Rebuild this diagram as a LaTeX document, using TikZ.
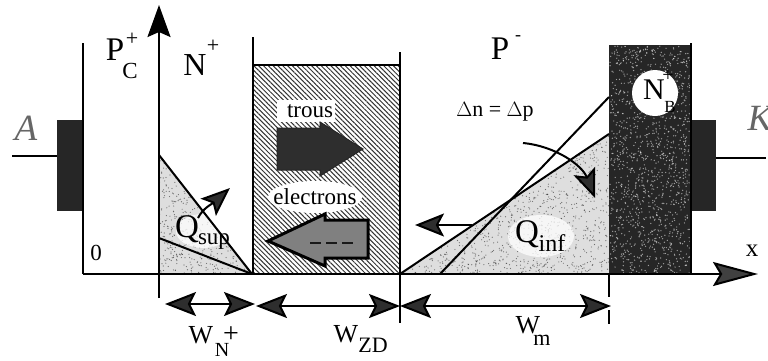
\documentclass[tikz,border=0pt]{standalone}
\usepackage{fontspec}
\setmainfont{Liberation Serif}
\usetikzlibrary{arrows.meta,patterns.meta}
\newcommand{\fsz}[1]{\fontsize{#1}{#1}\selectfont}
\tikzset{
  line/.style={line width=2pt,black},
  thin line/.style={line width=1.6pt,black},
  bigtip/.style={-{Stealth[inset=6pt,length=29pt,width=23pt,fill=black!82]}},
  dbl/.style={{Stealth[inset=6pt,length=31pt,width=24pt,fill=black!82]}-{Stealth[inset=6pt,length=31pt,width=24pt,fill=black!82]},line width=2pt},
  lab/.style={inner sep=0pt,outer sep=0pt,text=black},
  hatch/.style={pattern={Lines[angle=-45,distance=3.4pt,line width=1pt]},pattern color=black!80},
  stipple/.style={fill=black!13},
  blob/.style={fill=white,draw=none},
  contact/.style={fill=black!85,draw=none},
  outlined/.style={lab,text=black!60,font=\fsz{37}\itshape},
}
\begin{document}
\begin{tikzpicture}[x=1pt,y=-1pt]
\useasboundingbox (0,0) rectangle (768,360);
\clip (0,0) rectangle (768,360);
% anchors
\coordinate (O) at (83,274);
\coordinate (ytop) at (159,5);
\coordinate (ybot) at (159,298);
\coordinate (xend) at (758,274);
\coordinate (n0) at (159,274);
\coordinate (n1) at (159,155);
\coordinate (n2) at (159,238);
\coordinate (n3) at (252,274);
\coordinate (z0) at (253,274);
\coordinate (z1) at (400,274);
\coordinate (b0) at (609,274);
\coordinate (q1) at (609,134);
\coordinate (q2) at (609,97);
\coordinate (q3) at (440,274);
\pgfmathsetseed{7}
% shaded charges
\fill[stipple] (n0)--(n1)--(n3)--cycle;
\begin{scope}
  \clip (n0)--(n1)--(n3)--cycle;
  \foreach \i in {1,...,700}{
    \pgfmathsetmacro{\px}{159+rnd*93}
    \pgfmathsetmacro{\py}{155+rnd*119}
    \fill[black,opacity=.5] (\px,\py) circle (0.6);
  }
  \fill[white,opacity=.75] (203,231) ellipse (27 and 17);
\end{scope}
\fill[stipple] (z1)--(q1)--(b0)--cycle;
\begin{scope}
  \clip (z1)--(q1)--(b0)--cycle;
  \foreach \i in {1,...,1700}{
    \pgfmathsetmacro{\px}{400+rnd*209}
    \pgfmathsetmacro{\py}{134+rnd*140}
    \fill[black,opacity=.5] (\px,\py) circle (0.6);
  }
  \fill[white,opacity=.75] (541,236) ellipse (33 and 21);
\end{scope}
% depletion zone
\path[hatch] (254,65) rectangle (400,274);
\draw[line] (253,37)--(z0);
\draw[line] (254,65)--(400,65);
\draw[line] (400,52)--(400,323);
% label blobs
\fill[blob] (277,100) rectangle (335,122);
\fill[blob] (315,197) ellipse (47 and 16);
% N+ buried block
\fill[black!85] (609,45) rectangle (691,274);
\foreach \i in {1,...,1300}{
  \pgfmathsetmacro{\px}{610+rnd*80}
  \pgfmathsetmacro{\py}{46+rnd*227}
  \fill[white,opacity=.55] (\px,\py) circle (0.7);
}
\draw[line] (691,43)--(691,274);
\fill[white] (655,93) circle (23);
% contacts
\fill[contact] (57,120) rectangle (83,211);
\fill[contact] (692,120) rectangle (716,211);
\draw[thin line] (12,156)--(57,156);
\draw[thin line] (716,158)--(766,158);
% axes
\draw[line] (83,43)--(O);
\draw[line] (O)--(n0)--(z0)--(z1)--(b0)--(691,274);
\draw[line,-{Stealth[inset=7pt,length=45pt,width=24pt,fill=black!75]}] (691,274)--(xend);
\draw[line,-{Stealth[inset=5pt,length=32pt,width=23pt,fill=black]}] (ybot)--(ytop);
\draw[line] (b0)--(609,297);
\draw[line] (609,310)--(609,324);
% charge profile lines
\draw[line] (n1)--(n3);
\draw[line] (n2)--(n3);
\draw[line] (z1)--(q1);
\draw[line] (q3)--(q2);
% carrier arrows
\draw[fill=black!82,draw=black!85,line width=1pt] (277,128)--(320,128)--(320,122)--(363,149)--(320,176)--(320,170)--(277,170)--cycle;
\draw[fill=black!50,draw=black,line width=3pt,line join=miter] (268,241)--(325,214)--(325,220)--(368,220)--(368,258)--(325,258)--(325,266)--cycle;
\draw[black!90,line width=1.8pt,dash pattern=on 11pt off 5pt] (310,243)--(355,243);
% small arrows
\draw[line,bigtip] (198,218) .. controls (203,208) and (212,204) .. (230,188);
\draw[line,bigtip] (472,225)--(415,225);
\draw[line,bigtip] (523,143) .. controls (555,146) and (582,165) .. (595,198);
% dimension arrows
\draw[dbl] (165,304)--(255,304);
\draw[dbl] (256,306)--(400,306);
\draw[dbl] (400,306)--(611,306);
% labels
\node[outlined] (lA) at (26,128) {A};
\node[outlined] (lK) at (760,118) {K};
\node[lab,font=\fsz{33}] (lP) at (115,50) {P};
\node[lab,font=\fsz{22}] (lPp) at (132,39) {+};
\node[lab,font=\fsz{23}] (lC) at (130,71) {C};
\node[lab,font=\fsz{32}] (lN) at (195,65) {N};
\node[lab,font=\fsz{22}] (lNp) at (213,46) {+};
\node[lab,font=\fsz{23}] (l0) at (96,253) {0};
\node[lab,font=\fsz{23}] (ltr) at (310,111) {trous};
\node[lab,font=\fsz{23}] (lel) at (315,197) {electrons};
\node[lab,font=\fsz{33}] (lPm) at (500,49) {P};
\node[lab,font=\fsz{18}] (lPms) at (518,38) {-};
\node[lab,font=\fsz{22}] (ldn) at (495,112) {$\Delta$n = $\Delta$p};
\node[lab,font=\fsz{33}] (lQs) at (187,229) {Q};
\node[lab,font=\fsz{23}] (lQss) at (214,242) {sup};
\node[lab,font=\fsz{33}] (lQi) at (527,234) {Q};
\node[lab,font=\fsz{24}] (lQis) at (552,243) {inf};
\node[lab,font=\fsz{30}] (lNb) at (654,90) {N};
\node[lab,font=\fsz{20}] (lNbp) at (668,76) {+};
\node[lab,font=\fsz{17}] (lNbb) at (670,107) {B};
\node[lab,font=\fsz{25}] (lx) at (752,251) {x};
\node[lab,font=\fsz{26}] (lW1) at (201,335) {W};
\node[lab,font=\fsz{20}] (lW1n) at (222,350) {N};
\node[lab,font=\fsz{28}] (lW1p) at (231,335) {+};
\node[lab,font=\fsz{26}] (lW2) at (346,334) {W};
\node[lab,font=\fsz{22}] (lW2z) at (373,345) {ZD};
\node[lab,font=\fsz{26}] (lW3) at (528,325) {W};
\node[lab,font=\fsz{22}] (lW3m) at (542,340) {m};
\end{tikzpicture}
\end{document}
